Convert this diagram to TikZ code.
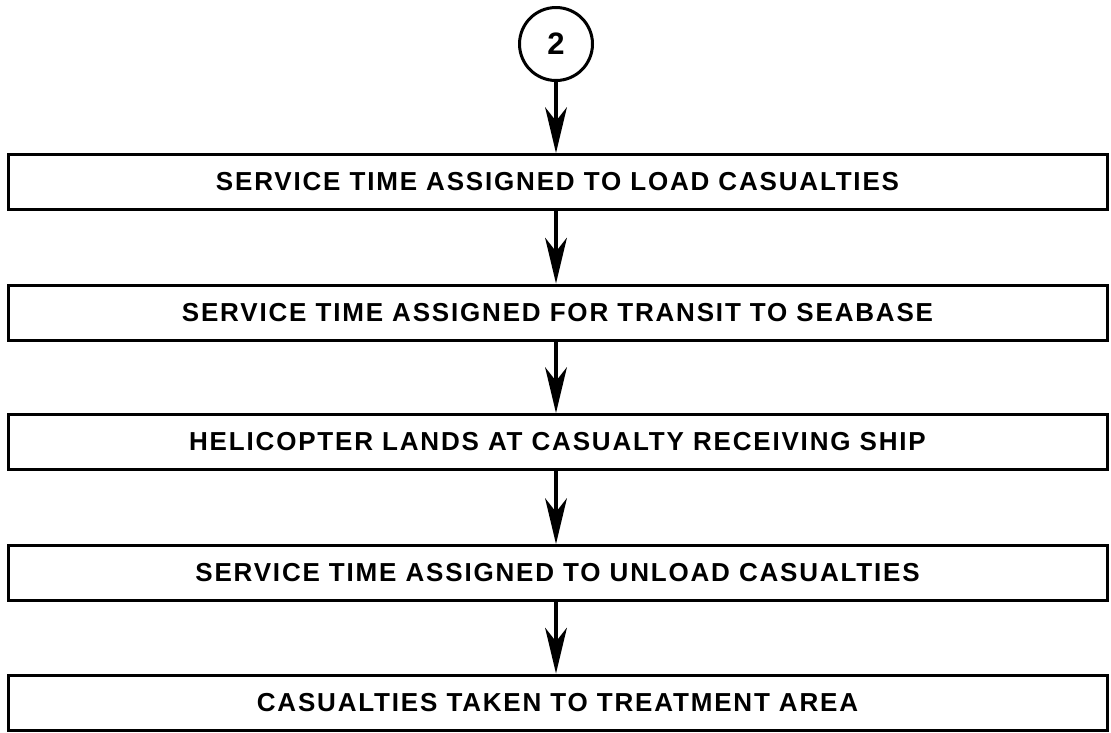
\documentclass[tikz,border=0pt]{standalone}
\usepackage{fontspec}
\setmainfont{Liberation Sans}[LetterSpace=7]
\usetikzlibrary{arrows.meta}
\begin{document}
\begin{tikzpicture}[x=1pt,y=-1pt,
  stepbox/.style={draw,line width=3pt,rectangle,minimum width=1099pt,minimum height=55pt,
    inner sep=0pt,font=\fontsize{26}{30}\selectfont\bfseries},
  connector/.style={draw,circle,line width=3pt,minimum size=73pt,inner sep=0pt,
    font=\fontsize{31}{32}\selectfont\bfseries},
  flow/.style={line width=3.5pt,-{Stealth[length=46pt,width=22pt,inset=14pt,line width=0pt]}}]
\useasboundingbox (0,0) rectangle (1111,732);
\node[connector] (c2) at (556,44) {2};
\node[stepbox] (s1) at (557.5,182) {SERVICE TIME ASSIGNED TO LOAD CASUALTIES};
\node[stepbox] (s2) at (557.5,312.5) {SERVICE TIME ASSIGNED FOR TRANSIT TO SEABASE};
\node[stepbox] (s3) at (557.5,442) {HELICOPTER LANDS AT CASUALTY RECEIVING SHIP};
\node[stepbox] (s4) at (557.5,573) {SERVICE TIME ASSIGNED TO UNLOAD CASUALTIES};
\node[stepbox] (s5) at (557.5,702.5) {CASUALTIES TAKEN TO TREATMENT AREA};
\draw[flow] (c2.south) -- (s1.north -| c2.south);
\draw[flow] (s1.south -| c2.south) -- (s2.north -| c2.south);
\draw[flow] (s2.south -| c2.south) -- (s3.north -| c2.south);
\draw[flow] (s3.south -| c2.south) -- (s4.north -| c2.south);
\draw[flow] (s4.south -| c2.south) -- (s5.north -| c2.south);
\end{tikzpicture}
\end{document}
